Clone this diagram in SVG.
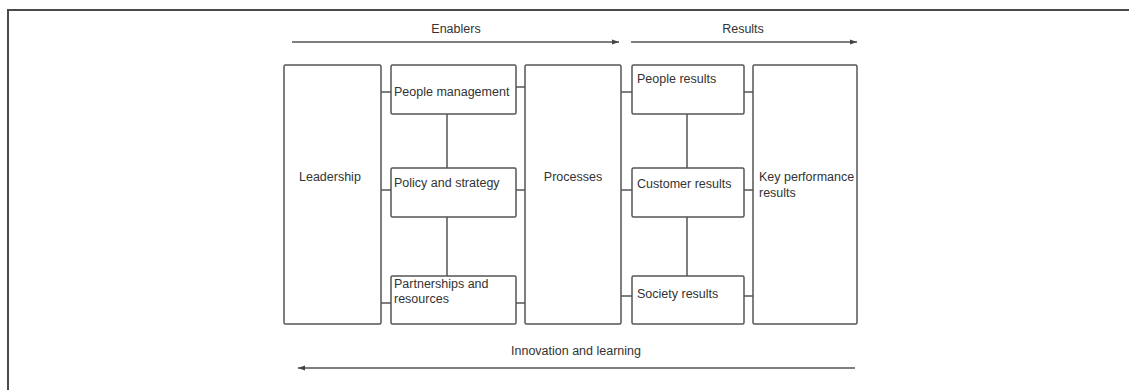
<svg xmlns="http://www.w3.org/2000/svg" width="1129" height="390" viewBox="0 0 1129 390">
<style>
.box{fill:#fff;stroke:#555;stroke-width:1.5}
.ln{stroke:#555;stroke-width:1.5;fill:none}
.t{font-family:"Liberation Sans",Arial,sans-serif;font-size:12.5px;fill:#333}
.c{text-anchor:middle}
</style>
<defs>
<marker id="ah" markerWidth="8" markerHeight="6" refX="7" refY="3" orient="auto" markerUnits="userSpaceOnUse">
<path d="M0,0.5 L7,3 L0,5.5 Z" fill="#444"/>
</marker>
</defs>
<rect width="1129" height="390" fill="#fff"/>
<path d="M8,390 V10 H1129" fill="none" stroke="#4a4a4a" stroke-width="2"/>
<g id="connectors">
<line class="ln" x1="292" y1="42" x2="619" y2="42" marker-end="url(#ah)"/>
<line class="ln" x1="631" y1="42" x2="857" y2="42" marker-end="url(#ah)"/>
<line class="ln" x1="855" y1="368" x2="298" y2="368" marker-end="url(#ah)"/>
<line class="ln" x1="381" y1="92" x2="391" y2="92"/>
<line class="ln" x1="516" y1="87" x2="525" y2="87"/>
<line class="ln" x1="621" y1="92" x2="632" y2="92"/>
<line class="ln" x1="744" y1="92" x2="753" y2="92"/>
<line class="ln" x1="381" y1="190" x2="391" y2="190"/>
<line class="ln" x1="516" y1="190" x2="525" y2="190"/>
<line class="ln" x1="621" y1="190" x2="632" y2="190"/>
<line class="ln" x1="744" y1="190" x2="753" y2="190"/>
<line class="ln" x1="381" y1="303" x2="391" y2="303"/>
<line class="ln" x1="516" y1="303" x2="525" y2="303"/>
<line class="ln" x1="621" y1="296" x2="632" y2="296"/>
<line class="ln" x1="744" y1="296" x2="753" y2="296"/>
<line class="ln" x1="447" y1="114" x2="447" y2="168"/>
<line class="ln" x1="447" y1="217" x2="447" y2="276"/>
<line class="ln" x1="687" y1="114" x2="687" y2="168"/>
<line class="ln" x1="687" y1="217" x2="687" y2="276"/>
</g>
<g id="labels">
<text class="t c" x="456" y="33">Enablers</text>
<text class="t c" x="743" y="33">Results</text>
<text class="t c" x="576" y="355">Innovation and learning</text>
</g>
<g id="leadership">
<rect class="box" x="284" y="65" width="97" height="259" rx="1.5"/>
<text class="t" x="299" y="181">Leadership</text>
</g>
<g id="people-management">
<rect class="box" x="391" y="65" width="125" height="49" rx="1.5"/>
<text class="t" x="394" y="96">People management</text>
</g>
<g id="policy-strategy">
<rect class="box" x="391" y="168" width="125" height="49" rx="1.5"/>
<text class="t" x="394" y="187">Policy and strategy</text>
</g>
<g id="partnerships-resources">
<rect class="box" x="391" y="276" width="125" height="48" rx="1.5"/>
<text class="t" x="394" y="288">Partnerships and</text>
<text class="t" x="394" y="303">resources</text>
</g>
<g id="processes">
<rect class="box" x="525" y="65" width="96" height="259" rx="1.5"/>
<text class="t c" x="573" y="181">Processes</text>
</g>
<g id="people-results">
<rect class="box" x="632" y="65" width="112" height="49" rx="1.5"/>
<text class="t" x="637" y="83">People results</text>
</g>
<g id="customer-results">
<rect class="box" x="632" y="168" width="112" height="49" rx="1.5"/>
<text class="t" x="637" y="188">Customer results</text>
</g>
<g id="society-results">
<rect class="box" x="632" y="276" width="112" height="48" rx="1.5"/>
<text class="t" x="637" y="298">Society results</text>
</g>
<g id="key-performance-results">
<rect class="box" x="753" y="65" width="104" height="259" rx="1.5"/>
<text class="t" x="759" y="181">Key performance</text>
<text class="t" x="759" y="197">results</text>
</g>
</svg>
